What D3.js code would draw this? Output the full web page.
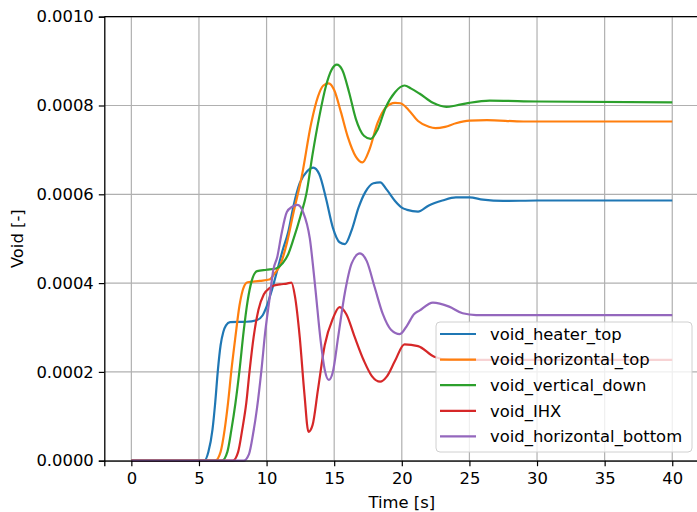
<!DOCTYPE html>
<meta charset="utf-8">
<style>
    html, body { margin: 0; padding: 0; background: #fff; }
    text { font-family: "DejaVu Sans", sans-serif; fill: #000; }
</style>
<script src="https://d3js.org/d3.v7.min.js"></script>
<div id="chart"></div>
<script>
    // values, in units of 1e-4
    const UNIT = 1e-4;

    const heaterTop = [[0,0],[5.4,0],[5.7,0.2],[6.0,0.7],[6.2,1.3],[6.4,2.04],[6.6,2.6],[6.8,2.9],[7.0,3.05],[7.3,3.12],
        [8.5,3.13],[9.3,3.17],[9.7,3.27],[10.0,3.47],[10.4,3.85],[10.8,4.3],[11.2,4.75],[11.6,5.15],[12.0,5.75],[12.45,6.25],
        [13.0,6.52],[13.45,6.6],[13.9,6.45],[14.4,5.9],[14.9,5.25],[15.4,4.92],[15.8,4.88],[16.3,5.2],[16.8,5.7],[17.3,6.05],
        [17.9,6.25],[18.4,6.27],[18.9,6.1],[19.5,5.85],[20.0,5.7],[20.4,5.65],[21.2,5.61],[22.0,5.75],[23.0,5.86],[24.0,5.93],
        [25.0,5.93],[26.0,5.88],[27.5,5.85],[30,5.86],[40,5.86]];

    const horizontalTop = [[0,0],[6.2,0],[6.6,0.2],[6.9,0.7],[7.15,1.3],[7.4,2.04],[7.7,2.8],[8.0,3.5],[8.3,3.9],[8.6,4.02],
        [9.5,4.05],[10.2,4.08],[10.6,4.22],[11.0,4.4],[11.5,4.9],[12.0,5.6],[12.6,6.4],[13.3,7.6],[13.8,8.2],[14.2,8.45],
        [14.6,8.5],[15.0,8.35],[15.5,7.85],[16.0,7.3],[16.6,6.85],[17.1,6.72],[17.6,7.0],[18.2,7.6],[18.8,7.95],[19.5,8.06],
        [19.9,8.05],[20.5,7.9],[21.2,7.65],[22.0,7.52],[22.5,7.49],[23.2,7.52],[24.0,7.6],[25.0,7.66],[26.3,7.67],[29,7.64],[40,7.64]];

    const verticalDown = [[0,0],[6.7,0],[7.1,0.2],[7.4,0.7],[7.7,1.3],[8.0,2.04],[8.3,2.9],[8.6,3.6],[8.9,4.05],[9.3,4.27],
        [10.0,4.3],[10.7,4.33],[11.2,4.45],[11.6,4.65],[12.0,5.0],[12.5,5.5],[12.95,6.02],[13.4,6.9],[13.9,7.75],[14.4,8.45],
        [14.8,8.8],[15.2,8.92],[15.6,8.8],[16.1,8.3],[16.6,7.7],[17.2,7.32],[17.7,7.25],[18.2,7.45],[18.8,7.95],[19.5,8.3],
        [20.2,8.45],[20.7,8.38],[21.3,8.27],[22.3,8.06],[23.3,7.97],[24.0,8.0],[25.0,8.06],[26.5,8.11],[30,8.09],[40,8.07]];

    const ihx = [[0,0],[7.5,0],[7.9,0.2],[8.2,0.7],[8.5,1.3],[8.75,2.04],[9.05,2.8],[9.4,3.4],[9.8,3.75],[10.2,3.88],
        [10.5,3.94],[11.0,3.97],[11.5,3.99],[11.84,4.01],[12.1,3.7],[12.45,2.79],[12.8,1.5],[13.1,0.65],[13.4,0.8],[13.8,1.6],
        [14.3,2.6],[14.9,3.2],[15.4,3.46],[15.9,3.3],[16.5,2.8],[17.2,2.25],[17.8,1.9],[18.4,1.78],[18.9,1.9],[19.5,2.25],
        [20.2,2.62],[21.2,2.58],[22.4,2.34],[23.5,2.27],[25,2.27],[30,2.27],[40,2.27]];

    const horizontalBottom = [[0,0],[8.3,0],[8.7,0.15],[9.0,0.6],[9.3,1.2],[9.62,2.04],[9.9,2.9],[10.2,3.6],[10.5,4.3],
        [10.8,4.6],[11.1,5.1],[11.5,5.6],[11.9,5.72],[12.3,5.76],[12.7,5.6],[13.2,5.0],[13.6,3.9],[14.0,2.7],[14.3,2.05],
        [14.6,1.82],[14.9,2.0],[15.3,2.8],[15.8,3.8],[16.3,4.45],[16.9,4.67],[17.4,4.5],[18.0,3.9],[18.6,3.3],[19.2,2.95],
        [19.85,2.85],[20.4,3.05],[20.9,3.3],[21.3,3.38],[22.3,3.56],[23.5,3.47],[24.5,3.32],[25.5,3.28],[30,3.28],[40,3.28]];

    const seriesNames = ["void_heater_top", "void_horizontal_top", "void_vertical_down", "void_IHX", "void_horizontal_bottom"];
    const seriesData = [heaterTop, horizontalTop, verticalDown, ihx, horizontalBottom];
    const colors = ["#1f77b4", "#ff7f0e", "#2ca02c", "#d62728", "#9467bd"];

    const xTicks = [0, 5, 10, 15, 20, 25, 30, 35, 40];
    const yTicks = [0, 0.0002, 0.0004, 0.0006, 0.0008, 0.0010];

    // the axes box runs slightly past the right edge of the picture
    const W = 697, H = 512;
    const margin = {top: 16.7, left: 104.3},
        width = 595,
        height = 444;
    const fontSize = "16.4px";

    const svg = d3.select("#chart").append("svg")
        .attr("width", W).attr("height", H);
    const g = svg.append("g")
        .attr("transform", `translate(${margin.left},${margin.top})`);

    const x = d3.scaleLinear().domain([-2, 42]).range([0, width]);
    const y = d3.scaleLinear().domain([0, 0.001]).range([height, 0]);

    // grid
    g.append("g").selectAll("line").data(xTicks).join("line")
        .attr("x1", d => x(d)).attr("x2", d => x(d))
        .attr("y1", 0).attr("y2", height)
        .attr("stroke", "#b0b0b0").attr("stroke-width", 1.2);
    g.append("g").selectAll("line").data(yTicks).join("line")
        .attr("x1", 0).attr("x2", width)
        .attr("y1", d => y(d)).attr("y2", d => y(d))
        .attr("stroke", "#b0b0b0").attr("stroke-width", 1.2);

    // lines
    const line = d3.line()
        .x(d => x(d[0]))
        .y(d => y(d[1] * UNIT))
        .curve(d3.curveMonotoneX);
    g.append("g").selectAll("path").data(seriesData).join("path")
        .attr("d", line)
        .attr("fill", "none")
        .attr("stroke", (d, i) => colors[i])
        .attr("stroke-width", 2.2)
        .attr("stroke-linejoin", "round");

    // axes
    const xAxis = g.append("g")
        .attr("transform", `translate(0,${height})`)
        .call(d3.axisBottom(x).tickValues(xTicks).tickSize(5.5).tickPadding(6).tickFormat(d3.format("d")));
    const yAxis = g.append("g")
        .call(d3.axisLeft(y).tickValues(yTicks).tickSize(5.5).tickPadding(5).tickFormat(d3.format(".4f")));
    [xAxis, yAxis].forEach(a => {
        a.selectAll("text").style("font-size", fontSize).attr("fill", "#000")
            .style("font-family", '"DejaVu Sans", sans-serif');
        a.selectAll("line").attr("stroke", "#000").attr("stroke-width", 1.2);
        a.select(".domain").attr("stroke", "#000").attr("stroke-width", 1.3);
    });
    // top and right spines
    g.append("line").attr("x1", 0).attr("x2", width).attr("y1", 0).attr("y2", 0)
        .attr("stroke", "#000").attr("stroke-width", 1.3);
    g.append("line").attr("x1", width).attr("x2", width).attr("y1", 0).attr("y2", height)
        .attr("stroke", "#000").attr("stroke-width", 1.3);

    // axis labels
    svg.append("text")
        .attr("x", margin.left + width / 2).attr("y", 508)
        .attr("text-anchor", "middle").style("font-size", fontSize)
        .text("Time [s]");
    svg.append("text")
        .attr("transform", `translate(23,${margin.top + height / 2}) rotate(-90)`)
        .attr("text-anchor", "middle").style("font-size", fontSize)
        .text("Void [-]");

    // legend
    const legend = svg.append("g").attr("transform", "translate(436,322)");
    legend.append("rect")
        .attr("width", 256).attr("height", 130)
        .attr("rx", 4)
        .attr("fill", "#fff").attr("fill-opacity", 0.8)
        .attr("stroke", "#d0d0d0").attr("stroke-width", 1);
    seriesNames.forEach((name, i) => {
        const cy = 12 + i * 25.6;
        legend.append("line")
            .attr("x1", 4).attr("x2", 40).attr("y1", cy).attr("y2", cy)
            .attr("stroke", colors[i]).attr("stroke-width", 2.2);
        legend.append("text")
            .attr("x", 54).attr("y", cy).attr("dy", "0.35em")
            .style("font-size", fontSize)
            .text(name);
    });
</script>
